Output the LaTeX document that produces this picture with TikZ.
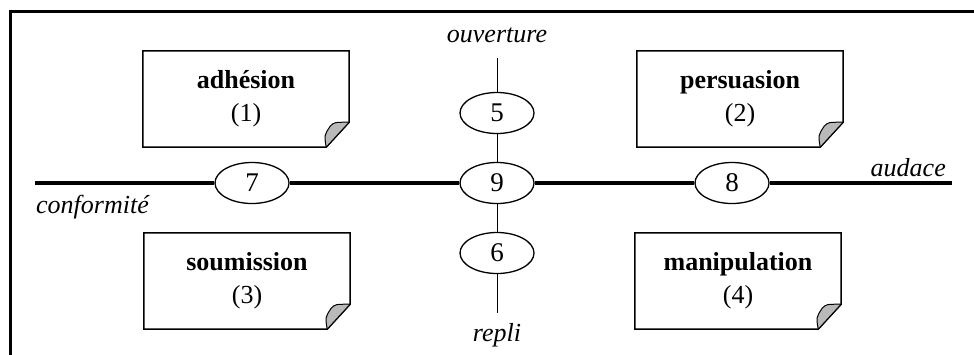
\documentclass[tikz,border=0pt]{standalone}
\usepackage{fontspec}
\setmainfont{Liberation Serif}
\usetikzlibrary{shapes.geometric,calc}
\begin{document}
\begin{tikzpicture}[x=1pt,y=-1pt,
  lab/.style={font=\fontsize{26}{30}\selectfont\itshape, inner sep=0pt},
  num/.style={ellipse, draw, line width=1.3pt, minimum width=74pt, minimum height=41pt, inner sep=0pt, font=\fontsize{27}{30}\selectfont},
  card/.style={minimum width=206pt, minimum height=96pt, align=center, inner sep=0pt, font=\fontsize{26}{33}\selectfont},
  axis/.style={line width=3.5pt},
  vaxis/.style={line width=0.9pt},
  outline/.style={line width=1.5pt, line join=miter},
  flap/.style={fill=gray!55, draw, line width=1pt, line join=round},
  frame/.style={line width=3pt},
]
\useasboundingbox (0,0) rectangle (974,354);
% frame
\draw[frame] (10,356) -- (10,11) -- (976,11);

% cards
\node[card] (adh) at (246,99) {\textbf{adhésion}\\(1)};
\node[card] (per) at (740,99) {\textbf{persuasion}\\(2)};
\node[card] (sou) at (247,281) {\textbf{soumission}\\(3)};
\node[card] (man) at (738,281) {\textbf{manipulation}\\(4)};
\foreach \n in {adh,per,sou,man}{
  \draw[outline] (\n.north west) -- (\n.north east) -- ([yshift=25pt]\n.south east) -- ([xshift=-23pt]\n.south east) -- (\n.south west) -- cycle;
  \draw[flap] ([xshift=-23pt]\n.south east) .. controls ([xshift=-25pt,yshift=12pt]\n.south east) .. ([xshift=-19pt,yshift=21pt]\n.south east) .. controls ([xshift=-15pt,yshift=25pt]\n.south east) .. ([yshift=25pt]\n.south east) -- cycle;
}

% ellipses
\node[num] (n5) at (497,113) {5};
\node[num] (n9) at (497,183) {9};
\node[num] (n6) at (497,253) {6};
\node[num] (n7) at (252,183) {7};
\node[num] (n8) at (732,183) {8};

% axis ends
\coordinate (L) at (35,183);
\coordinate (R) at (952,183);
\coordinate (T) at (497,58);
\coordinate (B) at (497,313);

\draw[axis] (L) -- (n7);
\draw[axis] (n7) -- (n9);
\draw[axis] (n9) -- (n8);
\draw[axis] (n8) -- (R);
\draw[vaxis] (T) -- (n5);
\draw[vaxis] (n5) -- (n9);
\draw[vaxis] (n9) -- (n6);
\draw[vaxis] (n6) -- (B);

% labels
\node[lab, anchor=base] (ouv) at (497,42) {ouverture};
\node[lab, anchor=base] (rep) at (497,341) {repli};
\node[lab, anchor=base west] (conf) at (36,213) {conformité};
\node[lab, anchor=base east] (aud) at (946,176) {audace};
\end{tikzpicture}
\end{document}
